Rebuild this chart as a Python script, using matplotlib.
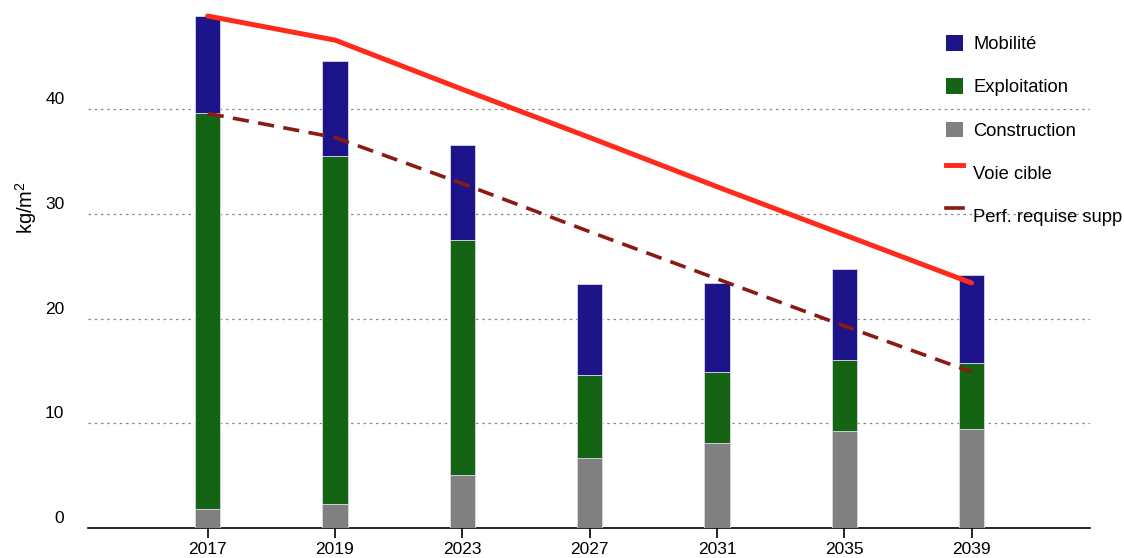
import matplotlib
matplotlib.use("Agg")
import matplotlib.pyplot as plt
import numpy as np
from matplotlib.patches import Patch
from matplotlib.lines import Line2D
from matplotlib.legend_handler import HandlerLine2D
from matplotlib.transforms import ScaledTranslation

years = ["2017", "2019", "2023", "2027", "2031", "2035", "2039"]
construction = [1.8, 2.3, 5.1, 6.7, 8.1, 9.3, 9.5]
exploitation_top = [39.6, 35.5, 27.5, 14.6, 14.9, 16.0, 15.8]
mobilite_top = [48.9, 44.6, 36.6, 23.3, 23.4, 24.7, 24.2]
exploitation = [e - c for e, c in zip(exploitation_top, construction)]
mobilite = [m - e for m, e in zip(mobilite_top, exploitation_top)]
voie_cible = [48.9, 46.6, 41.9, 37.3, 32.6, 28.0, 23.4]
perf_requise = [39.6, 37.3, 32.9, 28.3, 23.8, 19.3, 14.9]
yticks = [0, 10, 20, 30, 40]

c_mob = "#1e1489"
c_exp = "#156414"
c_con = "#808080"
c_red = "#ff2a1a"
c_dash = "#8b1a14"

plt.rcParams['font.family'] = ['Liberation Sans', 'DejaVu Sans']
plt.rcParams['mathtext.fontset'] = 'custom'
plt.rcParams['mathtext.rm'] = 'Liberation Sans'

fig = plt.figure(figsize=(11.24, 5.58), dpi=100)
W, H = 1124, 558
ax = fig.add_axes([88 / W, (H - 528) / H, (1090 - 88) / W, 523.5 / H])

x = np.arange(len(years))
bw = 0.2
ec = "#d8d8e8"
ax.bar(x, construction, bw, color=c_con, edgecolor=ec, linewidth=0.6, zorder=3)
ax.bar(x, exploitation, bw, bottom=construction, color=c_exp, edgecolor=ec, linewidth=0.6, zorder=3)
ax.bar(x, mobilite, bw, bottom=exploitation_top, color=c_mob, edgecolor=ec, linewidth=0.6, zorder=3)
ax.plot(x, voie_cible, color=c_red, lw=3.6, solid_capstyle='round', zorder=4)
ax.plot(x, perf_requise, color=c_dash, lw=2.6, dashes=(4.5, 2.6), zorder=4)

ax.set_xlim(-0.94, 6.93)
ax.set_ylim(0, 50)
for yv in yticks[1:]:
    ax.axhline(yv, color="#888888", lw=0.9, dashes=(2, 3), zorder=1)

ax.set_xticks(x)
ax.set_xticklabels(years, fontsize=12.5)
ax.set_yticks(yticks)
ax.set_yticklabels([str(v) for v in yticks], fontsize=12.5)
ax.tick_params(axis='y', length=0, pad=17)
ax.tick_params(axis='x', length=7, width=1.2, pad=3, direction='out')
for lab in ax.get_yticklabels():
    lab.set_transform(lab.get_transform() + ScaledTranslation(0, 0.11, fig.dpi_scale_trans))

for s in ['top', 'right', 'left']:
    ax.spines[s].set_visible(False)
ax.spines['bottom'].set_linewidth(1.2)

fig.text(26 / W, 1 - 208 / H, "kg/m$^{2}$", rotation=90, ha='center', va='center', fontsize=14.5)


class HandlerTopLine(HandlerLine2D):
    def create_artists(self, legend, orig_handle, xdescent, ydescent, width, height, fontsize, trans):
        arts = super().create_artists(legend, orig_handle, xdescent, ydescent, width, height, fontsize, trans)
        for a in arts:
            yd = np.asarray(a.get_ydata(), dtype=float)
            a.set_ydata(yd + height * 0.45)
        return arts


handles = [
    Patch(facecolor=c_mob, edgecolor='none'),
    Patch(facecolor=c_exp, edgecolor='none'),
    Patch(facecolor=c_con, edgecolor='none'),
    Line2D([0], [0], color=c_red, lw=3.5),
    Line2D([0], [0], color=c_dash, lw=2.6),
]
labels = ["Mobilité", "Exploitation", "Construction", "Voie cible", "Perf. requise supp"]
leg = fig.legend(handles, labels, loc='upper left', bbox_to_anchor=(946 / W, 1 - 35 / H),
                 frameon=False, fontsize=13.2, handlelength=0.94, handleheight=0.94,
                 handletextpad=0.55, labelspacing=1.37, borderpad=0, borderaxespad=0,
                 handler_map={Line2D: HandlerTopLine()})

fig.savefig("out.png", dpi=100)
